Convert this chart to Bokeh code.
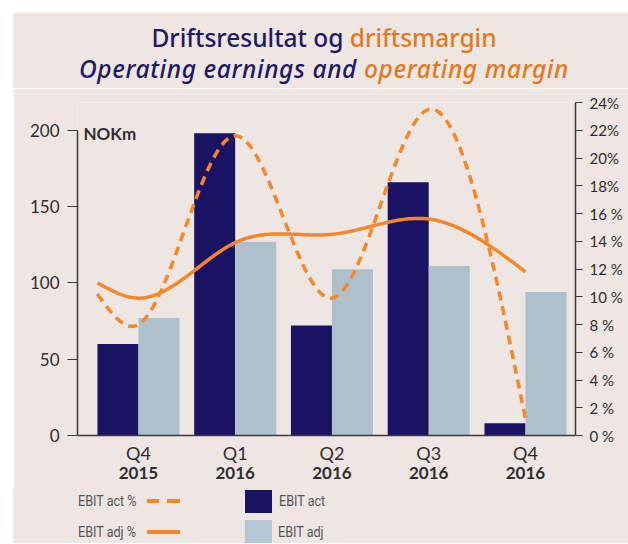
import numpy as np
from bokeh.plotting import figure
from bokeh.layouts import column
from bokeh.models import (LinearAxis, Range1d, FixedTicker, Label, Div,
                          ColumnDataSource)
from bokeh.transform import dodge
from bokeh.embed import file_html
from bokeh.resources import INLINE

# ---------------- data ----------------
quarters = ["Q4", "Q1", "Q2", "Q3", "Q4"]
years = ["2015", "2016", "2016", "2016", "2016"]
ebit_act = [60, 198, 72, 166, 8]          # NOKm
ebit_adj = [77, 127, 109, 111, 94]        # NOKm
ebit_act_pct = [8.0, 21.6, 9.9, 23.5, 1.2]   # %
ebit_adj_pct = [9.9, 13.9, 14.5, 15.6, 11.8] # %
# the margin curves start at the left edge of the first bar group
act_pct_start = 10.2
adj_pct_start = 11.0
left_ticks = [0, 50, 100, 150, 200]
pct_ticks = [0, 2, 4, 6, 8, 10, 12, 14, 16, 18, 20, 22, 24]
pct_labels = ["0 %", "2 %", "4 %", "6 %", "8 %", "10 %", "12 %", "14 %",
              "16 %", "18%", "20%", "22%", "24%"]
title_no = ("Driftsresultat og", "driftsmargin")
title_en = ("Operating earnings and", "operating margin")
legend_lines = ["EBIT act %", "EBIT adj %"]
legend_bars = ["EBIT act", "EBIT adj"]

# ---------------- style ----------------
BG = "#EEE6E3"
NAVY = "#1A1363"
LIGHT = "#AFC0CD"
LIGHT_KEY = "#B5C7D6"
ORANGE = "#F5862A"
T_NAVY = "#1E1966"
T_ORANGE = "#E07B22"
AX = "#3A3A3A"
TXT = "#2E2E2E"
FONT = "Lato"

BAR_W = 0.424
pct_max = 24
left_max = 200 * pct_max / 22
W = 615

idx = list(range(len(quarters)))

# ---------------- title (HTML, two colours per line) ----------------
title_html = (
    f'<div style="width:{W}px;height:75px;box-sizing:border-box;'
    f'padding:9px 0 0 7px;background:{BG};text-align:center;'
    f"font-family:'Noto Sans';font-size:24.5px;font-weight:500;line-height:31px;\">"
    f'<span style="color:{T_NAVY}">{title_no[0]} </span>'
    f'<span style="color:{T_ORANGE}">{title_no[1]}</span><br>'
    f'<span style="font-style:italic;letter-spacing:0.6px">'
    f'<span style="color:{T_NAVY}">{title_en[0]} </span>'
    f'<span style="color:{T_ORANGE}">{title_en[1]}</span></span>'
    f'</div>')
title_div = Div(text=title_html, width=W, height=75, margin=0,
                styles={"background-color": BG})

# ---------------- chart ----------------
p = figure(width=W, height=400,
           x_range=Range1d(-0.63, 4.517), y_range=Range1d(0, left_max),
           output_backend="svg", toolbar_location=None,
           x_axis_location=None, y_axis_location=None,
           min_border_left=64, min_border_right=53,
           min_border_top=14, min_border_bottom=53,
           background_fill_color=BG, border_fill_color=BG,
           outline_line_color=None, margin=0)
p.xgrid.visible = False
p.ygrid.visible = False
p.extra_y_ranges = {"pct": Range1d(0, pct_max)}

yax = LinearAxis(ticker=FixedTicker(ticks=left_ticks), bounds=(0, 200),
                 major_tick_out=10, major_tick_in=0,
                 minor_tick_out=0, minor_tick_in=0,
                 axis_line_color=AX, axis_line_width=1.5,
                 major_tick_line_color=AX, major_tick_line_width=1.2,
                 major_label_text_font=FONT,
                 major_label_text_font_size="17px",
                 major_label_text_color=TXT, major_label_standoff=8)
p.add_layout(yax, "left")

rax = LinearAxis(y_range_name="pct", ticker=FixedTicker(ticks=pct_ticks),
                 major_label_overrides={t: l for t, l in zip(pct_ticks, pct_labels)},
                 major_tick_out=7, major_tick_in=0,
                 minor_tick_out=0, minor_tick_in=0,
                 axis_line_color=AX, axis_line_width=1.5,
                 major_tick_line_color=AX, major_tick_line_width=1.2,
                 major_label_text_font=FONT,
                 major_label_text_font_size="15px",
                 major_label_text_color=TXT, major_label_standoff=7)
p.add_layout(rax, "right")

xax = LinearAxis(ticker=FixedTicker(ticks=idx),
                 major_label_overrides={i: q for i, q in zip(idx, quarters)},
                 major_tick_out=0, major_tick_in=0,
                 minor_tick_out=0, minor_tick_in=0,
                 axis_line_color=AX, axis_line_width=1.5,
                 major_label_text_font=FONT,
                 major_label_text_font_size="18px",
                 major_label_text_color=TXT, major_label_standoff=6)
p.add_layout(xax, "below")

yrax = LinearAxis(ticker=FixedTicker(ticks=idx),
                  major_label_overrides={i: y for i, y in zip(idx, years)},
                  major_tick_out=0, major_tick_in=0,
                  minor_tick_out=0, minor_tick_in=0,
                  axis_line_color=None,
                  major_label_text_font=FONT,
                  major_label_text_font_size="17px",
                  major_label_text_font_style="bold",
                  major_label_text_color=TXT, major_label_standoff=0)
p.add_layout(yrax, "below")

src = ColumnDataSource(dict(x=idx, act=ebit_act, adj=ebit_adj))
p.vbar(x=dodge("x", -BAR_W / 2, range=p.x_range), top="act", width=BAR_W,
       bottom=0, source=src, fill_color=NAVY, line_color=None)
p.vbar(x=dodge("x", BAR_W / 2, range=p.x_range), top="adj", width=BAR_W,
       bottom=0, source=src, fill_color=LIGHT, line_color=None)


def natural_spline(xs, ys, steps=40):
    xs = np.asarray(xs, float)
    ys = np.asarray(ys, float)
    n = len(xs)
    h = np.diff(xs)
    A = np.zeros((n, n))
    b = np.zeros(n)
    A[0, 0] = 1
    A[-1, -1] = 1
    for i in range(1, n - 1):
        A[i, i - 1] = h[i - 1]
        A[i, i] = 2 * (h[i - 1] + h[i])
        A[i, i + 1] = h[i]
        b[i] = 6 * ((ys[i + 1] - ys[i]) / h[i] - (ys[i] - ys[i - 1]) / h[i - 1])
    M = np.linalg.solve(A, b)
    ox, oy = [], []
    for i in range(n - 1):
        t = np.linspace(xs[i], xs[i + 1], steps)
        a = xs[i + 1] - t
        c = t - xs[i]
        y = (M[i] * a ** 3 / (6 * h[i]) + M[i + 1] * c ** 3 / (6 * h[i])
             + (ys[i] / h[i] - M[i] * h[i] / 6) * a
             + (ys[i + 1] / h[i] - M[i + 1] * h[i] / 6) * c)
        ox.extend(t.tolist())
        oy.extend(y.tolist())
    return ox, oy


start_x = idx[0] - BAR_W
line_x = [start_x] + idx
ax_, ay_ = natural_spline(line_x, [act_pct_start] + ebit_act_pct)
jx_, jy_ = natural_spline(line_x, [adj_pct_start] + ebit_adj_pct)
p.line(ax_, ay_, y_range_name="pct", line_color=ORANGE, line_width=3.5,
       line_dash="9 6")
p.line(jx_, jy_, y_range_name="pct", line_color=ORANGE, line_width=3.5)

p.add_layout(Label(x=6, y=302, x_units="screen", y_units="screen", text="NOKm",
                   text_font=FONT, text_font_size="17px",
                   text_font_style="bold", text_color=TXT,
                   text_baseline="middle"))

# ---------------- legend (HTML) ----------------
def box(left, top, w, h, col):
    return (f'<div style="position:absolute;left:{left}px;top:{top}px;'
            f'width:{w}px;height:{h}px;background:{col}"></div>')


def txt(left, top, s):
    return (f'<div style="position:absolute;left:{left}px;top:{top}px;'
            f'line-height:18px;white-space:nowrap;transform:scaleX(0.84);'
            f'transform-origin:left center">{s}</div>')


legend_html = (
    f'<div style="position:relative;width:{W}px;height:55px;background:{BG};'
    f"font-family:'Roboto',sans-serif;font-size:15px;"
    f'color:#555555">'
    + txt(65, 4, legend_lines[0])
    + box(134, 11, 12, 4, ORANGE) + box(154, 11, 13, 4, ORANGE)
    + txt(65, 35, legend_lines[1])
    + box(134, 42, 33, 4, ORANGE)
    + box(232, 2, 27, 23, NAVY) + txt(266, 4, legend_bars[0])
    + box(232, 32, 27, 23, LIGHT_KEY) + txt(265, 35, legend_bars[1])
    + '</div>')
legend_div = Div(text=legend_html, width=W, height=55, margin=0,
                 styles={"background-color": BG})

layout = column(title_div, p, legend_div, spacing=0, margin=(13, 0, 0, 13))
open("out.html", "w").write(file_html(layout, INLINE))
